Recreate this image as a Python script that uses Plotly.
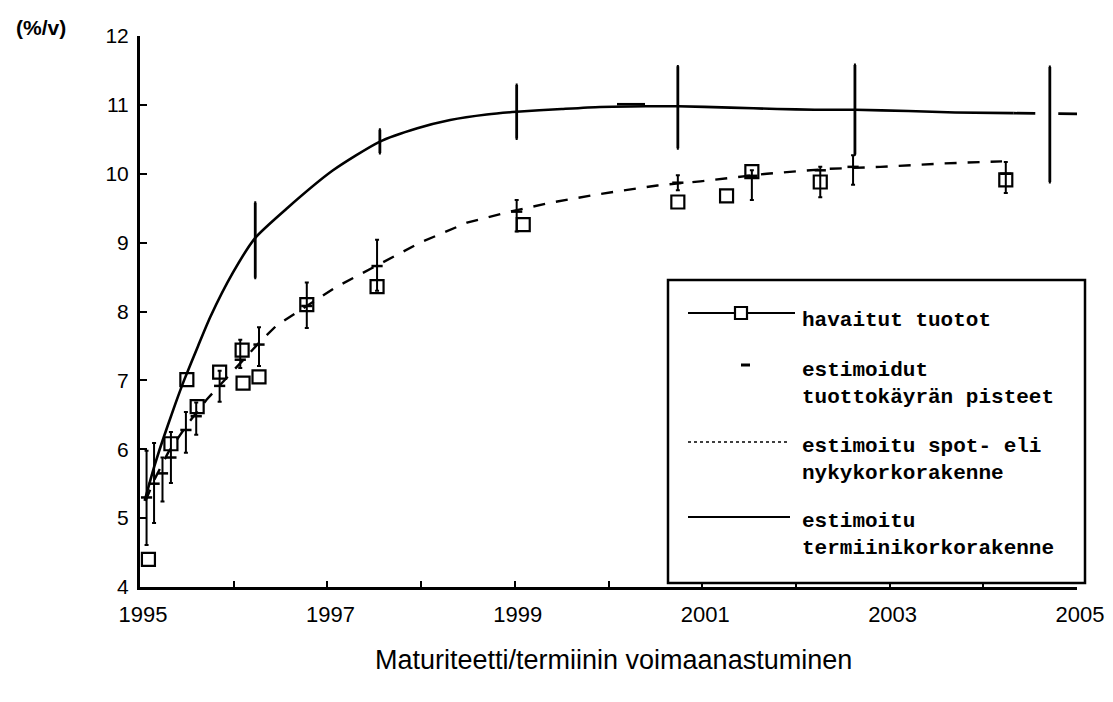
import plotly.graph_objects as go

# --- data ---
# estimated forward rate curve (solid)
fwd_years = [1995.05, 1995.10, 1995.15, 1995.21, 1995.30, 1995.38, 1995.47, 1995.62,
             1995.75, 1995.99, 1996.23, 1996.57, 1997.06, 1997.55, 1997.96, 1998.31,
             1998.70, 1999.02, 1999.50, 1999.91, 2000.40, 2000.74, 2001.30, 2001.80,
             2002.20, 2002.63, 2003.20, 2003.70, 2004.32]
fwd_rates = [5.25, 5.50, 5.74, 6.00, 6.36, 6.67, 7.00, 7.50,
             7.92, 8.56, 9.07, 9.50, 10.05, 10.46, 10.66, 10.78,
             10.86, 10.90, 10.94, 10.97, 10.98, 10.98, 10.96, 10.94,
             10.93, 10.93, 10.91, 10.89, 10.88]
fwd_tail_years = [2004.32, 2005.0]
fwd_tail_rates = [10.88, 10.87]

# forward rate confidence bars
fwd_bar_years = [1996.23, 1997.56, 1999.02, 2000.74, 2002.63, 2004.71]
fwd_bar_mid = [9.07, 10.47, 10.90, 10.96, 10.93, 10.87]
fwd_bar_low = [8.49, 10.30, 10.51, 10.37, 10.28, 9.88]
fwd_bar_high = [9.58, 10.64, 11.29, 11.56, 11.58, 11.55]

# estimated spot curve (dashed)
spot_years = [1995.06, 1995.15, 1995.30, 1995.50, 1995.71, 1996.00, 1996.28, 1996.46,
              1996.80, 1997.10, 1997.53, 1997.99, 1998.49, 1998.95, 1999.38, 1999.88,
              2000.52, 2000.98, 2001.69, 2002.33, 2002.90, 2003.57, 2004.20]
spot_rates = [5.25, 5.55, 5.95, 6.35, 6.72, 7.15, 7.56, 7.80,
              8.10, 8.36, 8.67, 9.00, 9.29, 9.45, 9.58, 9.70,
              9.83, 9.89, 10.00, 10.07, 10.10, 10.15, 10.18]

# estimated yield curve points with their intervals
est_years = [1995.07, 1995.15, 1995.24, 1995.33, 1995.49, 1995.60, 1995.85, 1996.07,
             1996.27, 1996.78, 1997.53, 1999.02, 2000.74, 2001.53, 2002.26, 2002.61,
             2004.24]
est_rates = [5.30, 5.50, 5.65, 5.88, 6.28, 6.48, 6.92, 7.30,
             7.52, 8.08, 8.66, 9.45, 9.87, 9.97, 10.05, 10.10,
             10.00]
est_low = [4.61, 4.93, 5.24, 5.51, 5.95, 6.21, 6.69, 7.18,
           7.21, 7.76, 8.30, 9.16, 9.76, 9.62, 9.66, 9.84,
           9.72]
est_high = [5.98, 6.09, 5.88, 6.25, 6.54, 6.68, 7.14, 7.59,
            7.77, 8.42, 9.04, 9.62, 9.98, 10.05, 10.10, 10.27,
            10.17]
extra_est_years = [2000.24]
extra_est_rates = [11.01]

# observed yields (squares)
obs_years = [1995.09, 1995.33, 1995.50, 1995.61, 1995.85, 1996.09, 1996.10, 1996.27,
             1996.78, 1997.53, 1999.09, 2000.74, 2001.26, 2001.53, 2002.26, 2004.24]
obs_rates = [4.40, 6.08, 7.01, 6.62, 7.12, 7.44, 6.96, 7.05,
             8.10, 8.36, 9.26, 9.59, 9.68, 10.03, 9.88, 9.91]

x_tick_years = list(range(1995, 2006))
x_tick_labels = ['1995', '', '1997', '', '1999', '', '2001', '', '2003', '', '2005']
y_ticks = list(range(4, 13))

legend_labels = ['havaitut tuotot',
                 'estimoidut<br>tuottokäyrän pisteet',
                 'estimoitu spot- eli<br>nykykorkorakenne',
                 'estimoitu<br>termiinikorkorakenne']

# --- geometry: the page body has an 8px margin, so work in window pixels ---
OFF = 8
WIN_W, WIN_H = 1113, 702
PL, PR, PT, PB = 140, 1077, 36, 587   # plot area edges in window pixels
W, H = WIN_W - OFF, WIN_H - OFF
L, T = PL - OFF, PT - OFF
R, B = W - (PR - OFF), H - (PB - OFF)
PW, PH = PR - PL, PB - PT


def px(x):
    return (x - PL) / PW


def py(y):
    return (PB - y) / PH


fig = go.Figure()

fig.add_trace(go.Scatter(x=spot_years, y=spot_rates, mode='lines',
                         line=dict(color='black', width=2.4, dash='12px,11px'),
                         showlegend=False))
fig.add_trace(go.Scatter(x=fwd_years, y=fwd_rates, mode='lines',
                         line=dict(color='black', width=2.6, shape='spline', smoothing=0.6),
                         showlegend=False))
fig.add_trace(go.Scatter(x=fwd_tail_years, y=fwd_tail_rates, mode='lines',
                         line=dict(color='black', width=2.6, dash='22px,23px'),
                         showlegend=False))

fig.add_trace(go.Scatter(
    x=fwd_bar_years, y=fwd_bar_mid, mode='markers',
    marker=dict(size=1, color='rgba(0,0,0,0)'),
    error_y=dict(type='data', symmetric=False,
                 array=[h - m for h, m in zip(fwd_bar_high, fwd_bar_mid)],
                 arrayminus=[m - l for m, l in zip(fwd_bar_mid, fwd_bar_low)],
                 width=1, thickness=2.8, color='black'),
    showlegend=False))

fig.add_trace(go.Scatter(
    x=est_years, y=est_rates, mode='markers',
    marker=dict(symbol='line-ew', size=8, color='black',
                line=dict(color='black', width=2.5)),
    error_y=dict(type='data', symmetric=False,
                 array=[h - m for h, m in zip(est_high, est_rates)],
                 arrayminus=[m - l for m, l in zip(est_rates, est_low)],
                 width=2, thickness=2, color='black'),
    showlegend=False))
fig.add_trace(go.Scatter(
    x=extra_est_years, y=extra_est_rates, mode='markers',
    marker=dict(symbol='line-ew', size=20, color='black',
                line=dict(color='black', width=2.5)),
    showlegend=False))

fig.add_trace(go.Scatter(
    x=obs_years, y=obs_rates, mode='markers',
    marker=dict(symbol='square-open', size=13, color='black',
                line=dict(color='black', width=2.2)),
    showlegend=False))

# --- hand-drawn style legend box ---
fig.add_shape(type='rect', xref='paper', yref='paper',
              x0=px(668), x1=px(1085), y0=py(583), y1=py(280),
              line=dict(color='black', width=2.5), fillcolor='white', layer='above')
leg_rows = [313, 365, 442, 517]
fig.add_shape(type='line', xref='paper', yref='paper', x0=px(688), x1=px(795),
              y0=py(leg_rows[0]), y1=py(leg_rows[0]), line=dict(color='black', width=2.2))
fig.add_shape(type='rect', xref='paper', yref='paper', x0=px(735), x1=px(747),
              y0=py(319), y1=py(307), line=dict(color='black', width=2.2), fillcolor='white')
fig.add_shape(type='line', xref='paper', yref='paper', x0=px(741), x1=px(750),
              y0=py(leg_rows[1]), y1=py(leg_rows[1]), line=dict(color='black', width=3))
fig.add_shape(type='line', xref='paper', yref='paper', x0=px(688), x1=px(787),
              y0=py(leg_rows[2]), y1=py(leg_rows[2]), line=dict(color='black', width=1.6, dash='dot'))
fig.add_shape(type='line', xref='paper', yref='paper', x0=px(688), x1=px(790),
              y0=py(leg_rows[3]), y1=py(leg_rows[3]), line=dict(color='black', width=2.2))

text_centers = [320, 384, 460, 535]
for label, yc in zip(legend_labels, text_centers):
    fig.add_annotation(xref='paper', yref='paper', x=px(800), y=py(yc),
                       text='<b>' + label.replace('<br>', '</b><br><b>') + '</b>',
                       showarrow=False, xanchor='left', yanchor='middle', align='left',
                       font=dict(family='Liberation Mono', size=21, color='black'))

fig.add_annotation(xref='paper', yref='paper', x=px(14), y=py(28), text='<b>(%/v)</b>',
                   showarrow=False, xanchor='left', yanchor='middle',
                   font=dict(family='Liberation Sans', size=21, color='black'))
fig.add_annotation(xref='paper', yref='paper', x=px(613), y=py(660),
                   text='Maturiteetti/termiinin voimaanastuminen', showarrow=False,
                   xanchor='center', yanchor='middle',
                   font=dict(family='Liberation Sans Narrow, Liberation Sans', size=27, color='black'))

fig.update_layout(
    width=W, height=H,
    margin=dict(l=L, r=R, t=T, b=B, autoexpand=False),
    paper_bgcolor='white',
    plot_bgcolor='white',
    showlegend=False,
    xaxis=dict(range=[1995, 2005], tickvals=x_tick_years, ticktext=x_tick_labels,
               ticks='inside', ticklen=6, tickwidth=2, tickcolor='black',
               showline=True, linewidth=3, linecolor='black', showgrid=False,
               zeroline=False, ticklabelstandoff=6, ticklabelshift=3,
               ticklabeloverflow='allow',
               tickfont=dict(family='Liberation Sans', size=22, color='black')),
    yaxis=dict(range=[4, 12], tickvals=y_ticks,
               ticks='inside', ticklen=7, tickwidth=2, tickcolor='black',
               showline=True, linewidth=3, linecolor='black', showgrid=False,
               zeroline=False, ticklabelstandoff=4,
               tickfont=dict(family='Liberation Sans', size=21, color='black')),
)

fig.write_html("out.html")
